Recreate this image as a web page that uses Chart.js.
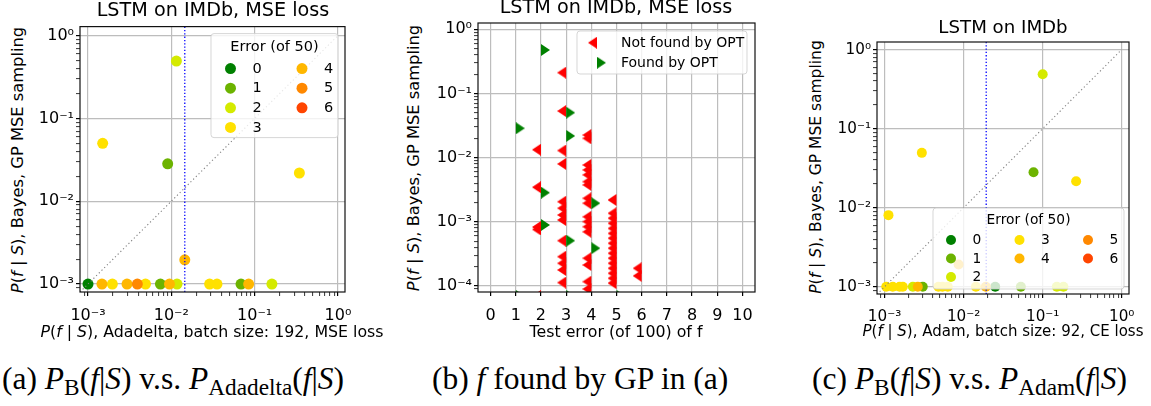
<!DOCTYPE html>
<html>
<head>
<meta charset="utf-8">
<script src="https://cdn.jsdelivr.net/npm/chart.js@4.4.0/dist/chart.umd.min.js"></script>
<style>
  body { margin: 0; width: 1151px; height: 406px; background: #fff; position: relative; overflow: hidden; font-family: 'DejaVu Sans', sans-serif; }
  canvas { position: absolute; }
  .lbl { position: absolute; white-space: nowrap; line-height: 1; color: #000; }
  .ttl { transform: translateX(-50%); }
  .xl { transform: translateX(-50%); }
  .yl { transform: translate(-50%, -50%) rotate(-90deg); }
  .cap { position: absolute; font-family: 'Liberation Serif', serif; font-size: 31.5px; line-height: 1; white-space: nowrap; color: #000; }
  .cap sub { font-size: 0.74em; vertical-align: -0.25em; line-height: 0; font-style: normal; }
</style>
</head>
<body>
<canvas id="chartA" width="335" height="310" style="left:30px;top:15px"></canvas>
<canvas id="chartB" width="345" height="315" style="left:425px;top:10px"></canvas>
<canvas id="chartC" width="321" height="295" style="left:830px;top:30px"></canvas>

<div class="lbl ttl" style="left:213px;top:0px;font-size:19.2px">LSTM on IMDb, MSE loss</div>
<div class="lbl ttl" style="left:616px;top:-3px;font-size:19.2px">LSTM on IMDb, MSE loss</div>
<div class="lbl ttl" style="left:1003px;top:18px;font-size:18.2px">LSTM on IMDb</div>

<div class="lbl yl" style="left:18px;top:160px;font-size:16.3px"><i>P</i>(<i>f</i> | <i>S</i>), Bayes, GP MSE sampling</div>
<div class="lbl yl" style="left:414px;top:158px;font-size:16.3px"><i>P</i>(<i>f</i> | <i>S</i>), Bayes, GP MSE sampling</div>
<div class="lbl yl" style="left:817px;top:167px;font-size:15.5px"><i>P</i>(<i>f</i> | <i>S</i>), Bayes, GP MSE sampling</div>

<div class="lbl xl" style="left:212px;top:324px;font-size:15.8px"><i>P</i>(<i>f</i> | <i>S</i>), Adadelta, batch size: 192, MSE loss</div>
<div class="lbl xl" style="left:616px;top:324px;font-size:15.8px">Test error (of 100) of f</div>
<div class="lbl xl" style="left:1003px;top:324px;font-size:15px"><i>P</i>(<i>f</i> | <i>S</i>), Adam, batch size: 92, CE loss</div>

<div class="cap" style="left:2px;top:363px">(a) <i>P</i><sub>B</sub>(<i>f</i>|<i>S</i>) v.s. <i>P</i><sub>Adadelta</sub>(<i>f</i>|<i>S</i>)</div>
<div class="cap" style="left:432px;top:363px">(b) <i>f</i> found by GP in (a)</div>
<div class="cap" style="left:812px;top:363px">(c) <i>P</i><sub>B</sub>(<i>f</i>|<i>S</i>) v.s. <i>P</i><sub>Adam</sub>(<i>f</i>|<i>S</i>)</div>

<script>
// ---- data ----
const errLabels = ['0', '1', '2', '3', '4', '5', '6'];
const errColors = ['#008000', '#6cb300', '#d4ea00', '#ffe100', '#ffb700', '#ff8800', '#ff4500'];

// (a) Adadelta vs Bayes (GP)
const aX = [0.001, 0.00147, 0.00196, 0.00294, 0.00391, 0.0049, 0.0074, 0.0095, 0.0117, 0.0288, 0.0353, 0.0686, 0.0847, 0.161,
            0.0115, 0.0015, 0.00904, 0.344, 0.0145];
const aY = [0.001, 0.001, 0.001, 0.001, 0.001, 0.001, 0.001, 0.001, 0.001, 0.001, 0.001, 0.001, 0.001, 0.001,
            0.492, 0.050, 0.0283, 0.0219, 0.00196];
const aErr = [0, 4, 3, 4, 5, 3, 1, 4, 2, 3, 3, 1, 4, 2,
              2, 3, 1, 3, 4];
const aThreshold = 0.0145;

// (b) test error of functions found by GP
const bTicks = [0, 1, 2, 3, 4, 5, 6, 7, 8, 9, 10];
const bNotX = [2, 2, 2, 2, 2,
               3, 3, 3, 3, 3, 3, 3, 3, 3, 3, 3, 3, 3,
               4, 4, 4, 4, 4, 4, 4, 4, 4, 4, 4, 4, 4, 4, 4, 4, 4,
               5, 5, 5, 5, 5, 5, 5, 5, 5, 5, 5, 5, 5, 5, 5, 5,
               6, 6];
const bNotY = [0.0133, 0.00346, 0.00083, 0.00076, 0.00007,
               0.211, 0.0533, 0.0129, 0.008, 0.00206, 0.00163, 0.00128, 0.00107, 0.000509, 0.000287, 0.000226, 0.000178, 0.000113,
               0.0225, 0.02, 0.0077, 0.00645, 0.0054, 0.00423, 0.00376, 0.00233, 0.00195, 0.0012, 0.00101, 0.00084, 0.0007, 0.000271, 0.000213, 0.000117, 0.00009,
               0.00219, 0.00136, 0.00114, 0.00095, 0.00079, 0.00066, 0.000556, 0.000464, 0.000388, 0.000324, 0.000271, 0.000226, 0.000189, 0.000158, 0.000132, 0.000111,
               0.000189, 0.000144];
const bFoundX = [1, 1, 2, 2, 2, 3, 3, 3, 3, 4, 4, 5];
const bFoundY = [0.0287, 0.00007, 0.476, 0.00285, 0.000895, 0.0502, 0.0218, 0.000509, 0.00007, 0.00195, 0.000388, 0.00007];

// (c) Adam vs Bayes (GP)
const cX = [0.1, 0.00296, 0.0766, 0.265, 0.00112, 0.00863,
            0.00105, 0.00127, 0.00155, 0.0017, 0.00228, 0.00263, 0.00304, 0.0048, 0.0054, 0.0063, 0.0143, 0.0191, 0.0251, 0.053, 0.151, 0.183];
const cY = [0.488, 0.0494, 0.0281, 0.0216, 0.00805, 0.00191,
            0.001, 0.001, 0.001, 0.001, 0.001, 0.001, 0.001, 0.001, 0.001, 0.001, 0.001, 0.001, 0.001, 0.001, 0.001, 0.001];
const cErr = [2, 3, 1, 3, 3, 4,
              3, 3, 3, 3, 2, 4, 1, 3, 3, 3, 3, 4, 0, 1, 2, 2];
const cThreshold = 0.0193;

// ---- helpers ----
const FONT = "'DejaVu Sans', sans-serif";
const SUP = {'-': '\u207B', '0': '\u2070', '1': '\u00B9', '2': '\u00B2', '3': '\u00B3', '4': '\u2074', '5': '\u2075'};

function isMajor(v) {
    const l = Math.log10(v);
    return Math.abs(l - Math.round(l)) < 1e-6;
}
function powLabel(v) {
    return '10' + String(Math.round(Math.log10(v))).split('').map(c => SUP[c]).join('');
}
function logTicks(min, max) {
    const t = [];
    for (let e = Math.floor(Math.log10(min)); e <= Math.ceil(Math.log10(max)); e++) {
        for (let k = 1; k <= 9; k++) {
            const v = k * Math.pow(10, e);
            if (v >= min && v <= max) t.push({value: v});
        }
    }
    return t;
}
function logAxis(min, max, size, fit, isX) {
    return {
        type: 'logarithmic', min: min, max: max,
        afterBuildTicks: s => { s.ticks = logTicks(min, max); },
        afterFit: s => { if (isX) s.height = fit; else s.width = fit; },
        ticks: {
            autoSkip: false, maxRotation: 0, padding: isX ? 10 : 2, color: '#000',
            font: {family: FONT, size: size},
            callback: v => isMajor(v) ? powLabel(v) : ''
        },
        grid: {
            color: c => (c.tick && isMajor(c.tick.value)) ? '#bdbdbd' : 'rgba(0,0,0,0)',
            lineWidth: 1.2, tickLength: 4, tickColor: '#000',
            tickWidth: c => (c.tick && isMajor(c.tick.value)) ? 1.2 : 0.8
        },
        border: {display: false}
    };
}

function errDatasets(xs, ys, errs, radius) {
    return errColors.map((col, e) => ({
        label: errLabels[e],
        data: xs.map((x, i) => ({x: x, y: ys[i], e: errs[i]})).filter(p => p.e === e),
        backgroundColor: col, borderColor: col, borderWidth: 0,
        pointRadius: radius, pointHoverRadius: radius,
        order: 10 - e, clip: 0
    }));
}
function guideLines(lo, hi, yLo, yHi, thr) {
    return [
        {data: [{x: lo, y: lo}, {x: hi, y: hi}], showLine: true, pointRadius: 0,
         borderColor: '#808080', borderWidth: 1.1, borderDash: [1.2, 2.6], order: 1, clip: 0},
        {data: [{x: thr, y: yLo}, {x: thr, y: yHi}], showLine: true, pointRadius: 0,
         borderColor: '#0000ff', borderWidth: 1.3, borderDash: [1.3, 2.0], order: 0, clip: 0}
    ];
}

// caret markers (base on the data point, like matplotlib's caretleftbase / caretrightbase)
function caret(dir, color) {
    const h = 12, d = 9;
    const c = document.createElement('canvas');
    c.width = 2 * d; c.height = h;
    const g = c.getContext('2d');
    g.fillStyle = color;
    g.beginPath();
    if (dir < 0) { g.moveTo(0, h / 2); g.lineTo(d, 0); g.lineTo(d, h); }
    else { g.moveTo(2 * d, h / 2); g.lineTo(d, 0); g.lineTo(d, h); }
    g.closePath();
    g.fill();
    return c;
}
const redCaret = caret(-1, '#ff0000');
const greenCaret = caret(1, '#008000');

// frame (all four spines) + matplotlib-like legend
const frameLegend = {
    id: 'frameLegend',
    afterDatasetsDraw(chart, args, o) {
        const ctx = chart.ctx, a = chart.chartArea;
        ctx.save();
        ctx.strokeStyle = '#111';
        ctx.lineWidth = 1.2;
        ctx.strokeRect(a.left, a.top, a.right - a.left, a.bottom - a.top);
        if (o && o.w) {
            const x0 = a.right - o.right - o.w;
            const y0 = o.bottom !== undefined ? a.bottom - o.bottom - o.h : a.top + o.top;
            ctx.beginPath();
            ctx.roundRect(x0, y0, o.w, o.h, 3);
            ctx.fillStyle = 'rgba(255,255,255,0.8)';
            ctx.fill();
            ctx.strokeStyle = 'rgba(204,204,204,0.8)';
            ctx.lineWidth = 1;
            ctx.stroke();
            ctx.font = o.font + 'px ' + FONT;
            ctx.fillStyle = '#000';
            ctx.textBaseline = 'middle';
            if (o.title) {
                ctx.textAlign = 'center';
                ctx.fillText(o.title, x0 + o.w / 2, y0 + o.titleDy);
            }
            ctx.textAlign = 'left';
            o.items.forEach(it => {
                const mx = x0 + o.colX + it.col * o.colStep;
                const my = y0 + o.rowY + it.row * o.rowStep;
                if (it.img) {
                    ctx.drawImage(it.img, mx - it.img.width / 2, my - it.img.height / 2);
                } else {
                    ctx.beginPath();
                    ctx.arc(mx, my, o.radius, 0, Math.PI * 2);
                    ctx.fillStyle = it.color;
                    ctx.fill();
                }
                ctx.fillStyle = '#000';
                ctx.fillText(it.label, mx + o.textDx, my + 0.5);
            });
        }
        ctx.restore();
    }
};

// matplotlib fills legend columns top to bottom, first columns get the extra rows
function errItems(ncol) {
    const n = errLabels.length, base = Math.floor(n / ncol), extra = n % ncol;
    const items = [];
    let e = 0;
    for (let c = 0; c < ncol; c++) {
        const rows = base + (c < extra ? 1 : 0);
        for (let r = 0; r < rows; r++, e++) {
            items.push({label: errLabels[e], color: errColors[e], col: c, row: r});
        }
    }
    return items;
}
function baseOptions(pad) {
    return {
        responsive: false, animation: false,
        layout: {padding: pad},
        plugins: {legend: {display: false}, tooltip: {enabled: false}, title: {display: false}},
        events: []
    };
}

// ---- chart (a) ----
const aMinX = Math.pow(10, -3.096), aMaxX = Math.pow(10, 0.084);
const aMinY = Math.pow(10, -3.096), aMaxY = Math.pow(10, 0.108);
const optA = baseOptions({top: 10, right: 20, left: 0, bottom: 0});
optA.scales = {x: logAxis(aMinX, aMaxX, 16, 33, true), y: logAxis(aMinY, aMaxY, 16, 50, false)};
optA.plugins.frameLegend = {right: 7, top: 7, w: 127, h: 104, font: 14.5, title: 'Error (of 50)', titleDy: 14,
    colX: 19.5, colStep: 71.5, rowY: 35, rowStep: 19.6, textDx: 22, radius: 5.5, items: errItems(2)};
new Chart(document.getElementById('chartA'), {
    type: 'scatter',
    data: {datasets: guideLines(aMinX, 1, aMinY, aMaxY, aThreshold).concat(errDatasets(aX, aY, aErr, 5.5))},
    options: optA,
    plugins: [frameLegend]
});

// ---- chart (b) ----
const bMinY = Math.pow(10, -4.093), bMaxY = Math.pow(10, 0.098);
const optB = baseOptions({top: 13, right: 15, left: 0, bottom: 0});
optB.scales = {
    x: {
        type: 'linear', min: -0.5, max: 10.5,
        afterBuildTicks: s => { s.ticks = bTicks.map(v => ({value: v})); },
        afterFit: s => { s.height = 33; },
        ticks: {autoSkip: false, maxRotation: 0, padding: 10, color: '#000', font: {family: FONT, size: 16}},
        grid: {color: '#bdbdbd', lineWidth: 1.2, tickLength: 4, tickColor: '#000', tickWidth: 1.2},
        border: {display: false}
    },
    y: logAxis(bMinY, bMaxY, 16, 53, false)
};
optB.plugins.frameLegend = {right: 8, top: 8, w: 170, h: 43, font: 14, title: '',
    colX: 20, colStep: 0, rowY: 11.7, rowStep: 20, textDx: 24, radius: 0,
    items: [{label: 'Not found by OPT', img: redCaret, col: 0, row: 0},
            {label: 'Found by OPT', img: greenCaret, col: 0, row: 1}]};
new Chart(document.getElementById('chartB'), {
    type: 'scatter',
    data: {datasets: [
        {label: 'Not found by OPT', data: bNotX.map((x, i) => ({x: x, y: bNotY[i]})),
         pointStyle: redCaret, pointRadius: 6, pointHoverRadius: 6, clip: 0, order: 2},
        {label: 'Found by OPT', data: bFoundX.map((x, i) => ({x: x, y: bFoundY[i]})),
         pointStyle: greenCaret, pointRadius: 6, pointHoverRadius: 6, clip: 0, order: 1}
    ]},
    options: optB,
    plugins: [frameLegend]
});

// ---- chart (c) ----
const cMinX = Math.pow(10, -3.096), cMaxX = Math.pow(10, 0.092);
const cMinY = Math.pow(10, -3.092), cMaxY = Math.pow(10, 0.096);
const optC = baseOptions({top: 12, right: 22, left: 0, bottom: 0});
optC.scales = {x: logAxis(cMinX, cMaxX, 15.2, 31, true), y: logAxis(cMinY, cMaxY, 15.2, 47, false)};
optC.plugins.frameLegend = {right: 5, bottom: 5, w: 191, h: 81, font: 13.8, title: 'Error (of 50)', titleDy: 12,
    colX: 18, colStep: 68.5, rowY: 32, rowStep: 18.5, textDx: 21.5, radius: 5, items: errItems(3)};
new Chart(document.getElementById('chartC'), {
    type: 'scatter',
    data: {datasets: guideLines(cMinX, 1, cMinY, cMaxY, cThreshold).concat(errDatasets(cX, cY, cErr, 5))},
    options: optC,
    plugins: [frameLegend]
});
</script>
</body>
</html>
